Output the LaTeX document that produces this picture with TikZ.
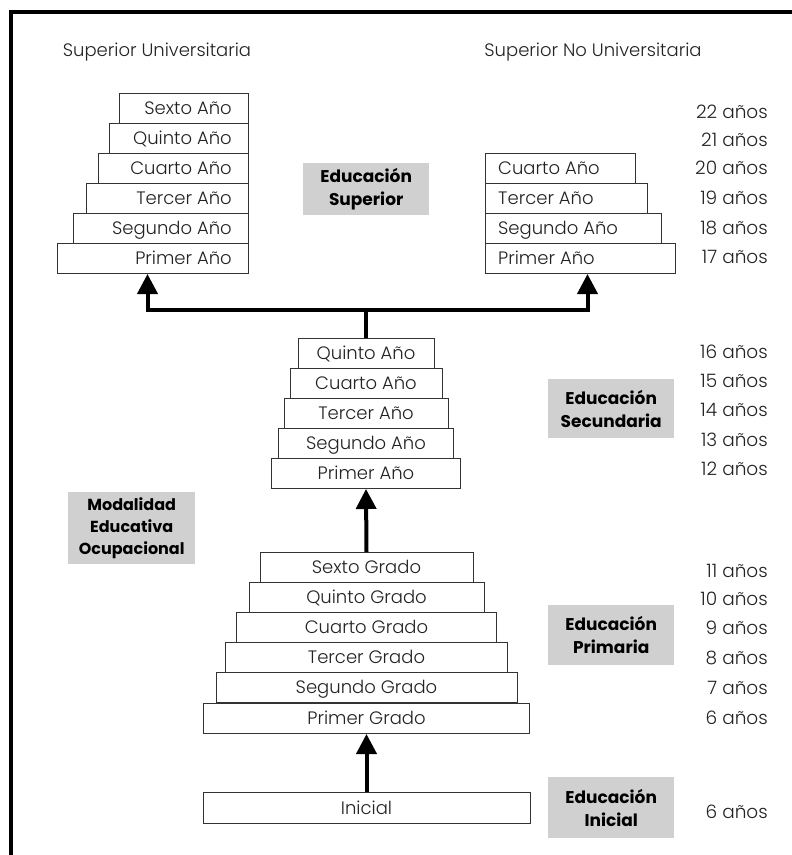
\documentclass[tikz,border=0pt]{standalone}
\usepackage{fontspec}
\setmainfont{Poppins}[UprightFont={* Light}, BoldFont={* Bold}]
\usetikzlibrary{arrows.meta}
\definecolor{boxline}{HTML}{333333}
\definecolor{txt}{HTML}{222222}
\definecolor{tagfill}{HTML}{D0D0D0}
\begin{document}
\begin{tikzpicture}[x=1pt,y=-1pt,
  box/.style={draw=boxline, line width=1pt, fill=white, inner sep=0pt,
    minimum height=30pt, text=txt, font=\fontsize{18}{20}\selectfont,
    text height=14pt, text depth=2pt},
  lbl/.style={text=txt, font=\fontsize{18}{20}\selectfont, inner sep=0pt,
    text height=14pt, text depth=2pt},
  rlab/.style={label={[lbl, anchor=east, xshift=-17pt]east:#1}},
  llab/.style={label={[lbl, anchor=west, xshift=13pt]west:#1}},
  age/.style={lbl, anchor=east, font=\fontsize{18.5}{20}\selectfont},
  head/.style={lbl},
  tag/.style={fill=tagfill, inner sep=0pt, align=center, text=black,
    font=\bfseries\fontsize{17}{23}\selectfont, minimum width=126pt, anchor=north west},
  conn/.style={line width=4pt, -{Triangle[width=20pt,length=20pt]}},
  trunk/.style={line width=4pt}
]
\useasboundingbox (0,0) rectangle (792,855);

% page frame
\draw[line width=3.5pt] (11,855) -- (11,12) -- (792,12);

% headings
\node[head] (hU) at (157,50) {Superior Universitaria};
\node[head] (hN) at (593,50) {Superior No Universitaria};

% university stack (right edges aligned)
\node[box, rlab=Sexto Año,   minimum width=129pt, anchor=north east] (u6) at (249,93)  {};
\node[box, rlab=Quinto Año,  minimum width=139pt, anchor=north east] (u5) at (249,123) {};
\node[box, rlab=Cuarto Año,  minimum width=150pt, anchor=north east] (u4) at (249,153) {};
\node[box, rlab=Tercer Año,  minimum width=162pt, anchor=north east] (u3) at (249,183) {};
\node[box, rlab=Segundo Año, minimum width=175pt, anchor=north east] (u2) at (249,213) {};
\node[box, rlab=Primer Año,  minimum width=191pt, anchor=north east] (u1) at (249,243) {};

% non-university stack (left edges aligned)
\node[box, llab=Cuarto Año,  minimum width=150pt, anchor=north west] (n4) at (485,153) {};
\node[box, llab=Tercer Año,  minimum width=162pt, anchor=north west] (n3) at (485,183) {};
\node[box, llab=Segundo Año, minimum width=176pt, anchor=north west] (n2) at (485,213) {};
\node[box, llab=Primer Año,  minimum width=190pt, anchor=north west] (n1) at (485,243) {};

\node[tag, minimum height=52pt] (tSup) at (303,163) {Educación\\Superior};

% secondary stack
\node[box, minimum width=136pt, anchor=north] (s5) at (366,338) {Quinto Año};
\node[box, minimum width=152pt, anchor=north] (s4) at (366,368) {Cuarto Año};
\node[box, minimum width=164pt, anchor=north] (s3) at (366,398) {Tercer Año};
\node[box, minimum width=175pt, anchor=north] (s2) at (366,428) {Segundo Año};
\node[box, minimum width=189pt, anchor=north] (s1) at (366,458) {Primer Año};

\node[tag, minimum height=59pt] (tSec) at (548,379) {Educación\\Secundaria};

\node[tag, minimum width=127pt, minimum height=72pt, font=\bfseries\fontsize{16}{22}\selectfont] (tMod) at (68,492) {Modalidad\\Educativa\\Ocupacional};

% primary stack
\node[box, minimum width=213pt, anchor=north] (p6) at (366.5,552) {Sexto Grado};
\node[box, minimum width=235pt, anchor=north] (p5) at (366.5,582) {Quinto Grado};
\node[box, minimum width=260pt, anchor=north] (p4) at (366.5,612) {Cuarto Grado};
\node[box, minimum width=282pt, anchor=north] (p3) at (366.5,642) {Tercer Grado};
\node[box, minimum width=301pt, anchor=north] (p2) at (366.5,672) {Segundo Grado};
\node[box, minimum width=326pt, anchor=north] (p1) at (366.5,703) {Primer Grado};

\node[tag, minimum height=60pt] (tPri) at (548,605) {Educación\\Primaria};

% initial level
\node[box, minimum width=327pt, minimum height=31pt, anchor=north] (ini) at (366.5,792) {Inicial};
\node[tag, minimum height=61pt] (tIni) at (548,777) {Educación\\Inicial};

% ages
\node[age] (a22) at (768,112) {22 años};
\node[age] (a21) at (768,140) {21 años};
\node[age] (a20) at (768,168) {20 años};
\node[age] (a19) at (768,198) {19 años};
\node[age] (a18) at (768,228) {18 años};
\node[age] (a17) at (768,257) {17 años};
\node[age] (a16) at (768,352) {16 años};
\node[age] (a15) at (768,381) {15 años};
\node[age] (a14) at (768,410) {14 años};
\node[age] (a13) at (768,440) {13 años};
\node[age] (a12) at (768,469) {12 años};
\node[age] (a11) at (768,571) {11 años};
\node[age] (a10) at (768,599) {10 años};
\node[age] (a9)  at (768,628) {9 años};
\node[age] (a8)  at (768,658) {8 años};
\node[age] (a7)  at (768,688) {7 años};
\node[age] (a6)  at (768,718) {6 años};
\node[age] (a6i) at (768,812) {6 años};

% connectors
\coordinate (split) at (366,310);
\draw[trunk] (s5.north) -- (split);
\draw[conn] (split) -| ([xshift=-5.5pt]u1.south);
\draw[conn] (split) -| ([xshift=7pt]n1.south);
\draw[conn] (p6.north) -- (s1.south);
\draw[conn] (ini.north) -- (p1.south);
\end{tikzpicture}
\end{document}
